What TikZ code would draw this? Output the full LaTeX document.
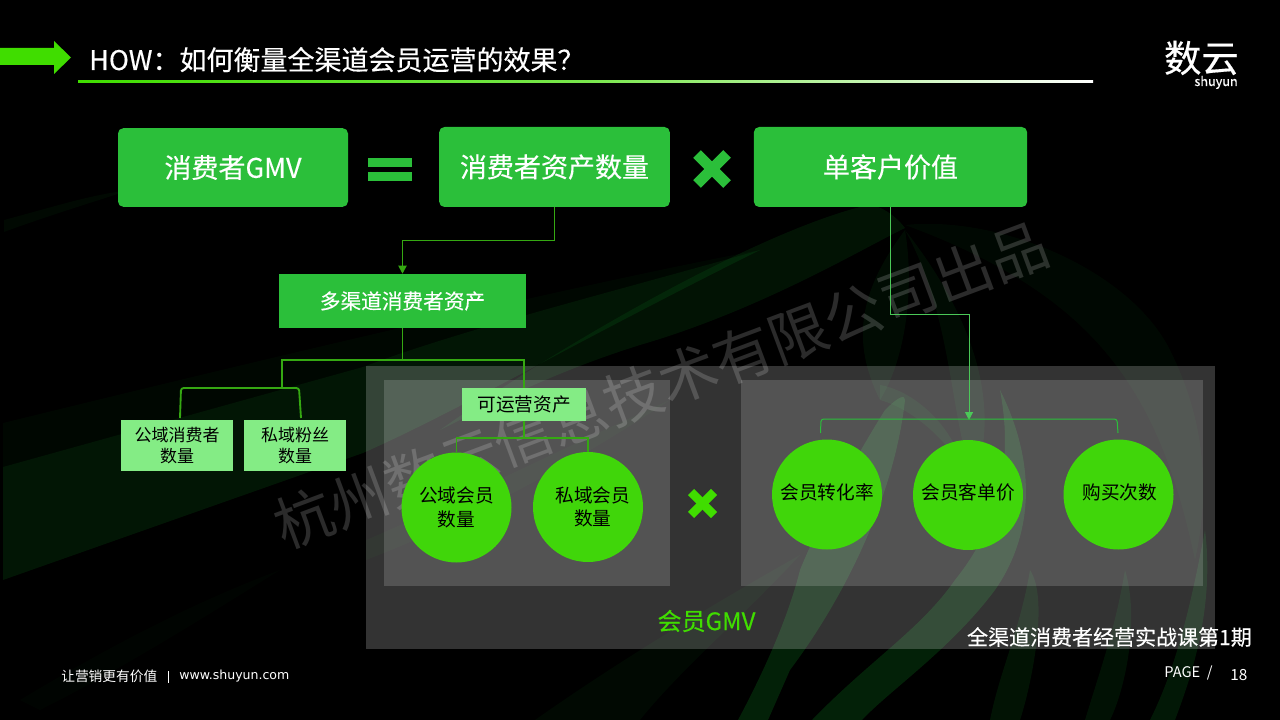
\documentclass[tikz,border=0pt]{standalone}
\usepackage{fontspec}
\setmainfont{Noto Sans CJK SC}
\newfontfamily\urlfont{DejaVu Sans}
\newfontfamily\heavy[FakeBold=0.35]{Noto Sans CJK SC}
\usetikzlibrary{arrows.meta,calc}
\definecolor{boxg}{HTML}{2BBF3A}
\definecolor{lightg}{HTML}{84EC85}
\definecolor{circg}{HTML}{40D60A}
\definecolor{arrg}{HTML}{40DD00}
\definecolor{lineg}{HTML}{35A812}
\definecolor{swoosh}{HTML}{0E7A1E}
\tikzset{
  x=0.75pt,y=-0.75pt,
  mainbox/.style={fill=boxg,text=white,rounded corners=4pt,inner sep=0pt,font=\heavy\fontsize{20.25pt}{24pt}\selectfont},
  subbox/.style={fill=boxg,text=white,inner sep=0pt,font=\heavy\fontsize{15.5pt}{19pt}\selectfont},
  leafbox/.style={fill=lightg,text=black,inner sep=0pt,align=center,font=\fontsize{12.75pt}{15.75pt}\selectfont},
  ball/.style={circle,fill=circg,text=black,inner sep=0pt,minimum size=82.5pt,align=center,font=\fontsize{14pt}{17.5pt}\selectfont},
  panel/.style={fill=white,fill opacity=#1,draw=none},
  band/.style={fill=swoosh,fill opacity=#1,draw=none},
  conn/.style={draw=lineg,line width=1.4pt},
  thin conn/.style={draw=boxg,line width=0.75pt},
  tip/.style={-{Triangle[length=6pt,width=6pt]}},
  txt/.style={inner sep=0pt,text=white},
  cross/.style={line width=#1,draw=boxg},
}
\begin{document}
\begin{tikzpicture}
\useasboundingbox (0,0) rectangle (1280,720);
\fill[black] (0,0) rectangle (1280,720);
% background swooshes
\path[band=.18] (3,580) -- (363,453) .. controls (460,410) and (560,350) .. (760,250) .. controls (620,290) and (460,330) .. (363,367) -- (3,467) -- cycle;
\path[band=.06] (3,467) -- (363,367) .. controls (460,330) and (620,290) .. (760,250) .. controls (600,280) and (300,350) .. (3,423) -- cycle;
\path[band=.08] (4,220) .. controls (60,205) and (90,195) .. (130,190) .. controls (100,200) and (50,215) .. (4,232) -- cycle;
\path[band=.16] (440,430) .. controls (560,345) and (760,230) .. (868,205) .. controls (880,205) and (895,215) .. (905,228) .. controls (860,250) and (760,310) .. (640,345) .. controls (560,370) and (500,400) .. (440,430) -- cycle;
\path[band=.07] (905,225) .. controls (1000,215) and (1130,270) .. (1170,350) .. controls (1195,400) and (1215,470) .. (1195,560) .. controls (1170,440) and (1130,360) .. (1050,300) .. controls (1010,270) and (960,245) .. (905,225) -- cycle;
\path[band=.1] (905,230) .. controls (960,300) and (1005,390) .. (975,480) .. controls (950,430) and (955,320) .. (905,230) -- cycle;
\path[band=.1] (905,230) .. controls (860,290) and (850,340) .. (880,400) .. controls (905,360) and (915,290) .. (905,230) -- cycle;
\path[band=.28] (738,720) .. controls (770,660) and (790,610) .. (800,570) .. controls (820,520) and (860,450) .. (885,410) .. controls (900,395) and (905,395) .. (905,400) .. controls (895,490) and (850,590) .. (790,670) -- (768,720) -- cycle;
\path[band=.28] (812,720) .. controls (870,660) and (920,630) .. (955,580) .. controls (995,530) and (1015,470) .. (1000,390) .. controls (1040,470) and (1030,540) .. (995,590) .. controls (950,650) and (890,690) .. (862,720) -- cycle;
\path[band=.12] (880,385) .. controls (910,390) and (950,420) .. (965,470) .. controls (945,440) and (915,410) .. (880,400) -- cycle;
\path[band=.16] (990,720) .. controls (1000,670) and (1020,630) .. (1030,570) .. controls (1050,600) and (1030,690) .. (1020,720) -- cycle;
\path[band=.14] (1085,720) .. controls (1100,670) and (1115,630) .. (1125,570) .. controls (1140,620) and (1125,690) .. (1110,720) -- cycle;
\path[band=.2] (1150,720) .. controls (1175,670) and (1190,610) .. (1205,530) .. controls (1215,610) and (1190,680) .. (1175,720) -- cycle;
\path[band=.08] (535,720) .. controls (620,660) and (720,600) .. (800,555) .. controls (740,620) and (680,670) .. (640,720) -- cycle;
\path[band=.06] (366,540) .. controls (460,500) and (580,440) .. (670,400) .. controls (580,460) and (470,520) .. (366,560) -- cycle;
\path[band=.04] (20,700) .. controls (120,640) and (200,600) .. (280,570) .. controls (200,620) and (120,670) .. (40,710) -- cycle;
% panels
\path[panel=.2] (366,366) rectangle (1215,649);
\path[panel=.16] (384,380) rectangle (670,586);
\path[panel=.16] (741,380) rectangle (1203,586);
% watermark
\node[rotate=20.5,text=white,text opacity=.17,inner sep=0pt,font=\fontsize{44pt}{50pt}\selectfont] (mark) at (661,385) {杭州数云信息技术有限公司出品};
% top arrow and title
\fill[arrg] (0,48) -- (54,48) -- (54,41) -- (71,57.5) -- (54,74) -- (54,65) -- (0,65) -- cycle;
\node[txt,anchor=base west,font=\heavy\fontsize{20.25pt}{24pt}\selectfont] (title) at (89,70) {HOW：如何衡量全渠道会员运营的效果？};
\shade[left color=arrg,right color=white,middle color=arrg!70!white] (78,81) rectangle (1093,83);
% logo
\node[txt,anchor=base east,font=\heavy\fontsize{28pt}{30pt}\selectfont] (logo) at (1239,72) {数云};
\node[txt,anchor=base east,font=\heavy\fontsize{9.5pt}{11pt}\selectfont] (logosub) at (1238,86) {shuyun};
% main equation boxes
\node[mainbox,minimum width=172.5pt,minimum height=59pt] (gmv) at (233,167.5) {消费者GMV};
\node[mainbox,minimum width=173pt,minimum height=60pt] (assets) at (554.5,167) {消费者资产数量};
\node[mainbox,minimum width=205pt,minimum height=60pt] (value) at (890.5,167) {单客户价值};
% equals
\fill[boxg] (368,158) rectangle (412,167);
\fill[boxg] (368,172) rectangle (412,181);
% large times
\draw[cross=8pt] (697,154) -- (727,184);
\draw[cross=8pt] (727,154) -- (697,184);
% small times
\draw[cross=6.5pt,draw=arrg] (691,492) -- (714,515);
\draw[cross=6.5pt,draw=arrg] (714,492) -- (691,515);
% sub boxes
\node[subbox,minimum width=185.25pt,minimum height=40.5pt] (multi) at (402.5,301) {多渠道消费者资产};
\node[leafbox,minimum width=84pt,minimum height=38.25pt] (pub) at (177,445.5) {公域消费者\\数量};
\node[leafbox,minimum width=76.5pt,minimum height=38.25pt] (priv) at (295,445.5) {私域粉丝\\数量};
\node[leafbox,minimum width=93pt,minimum height=24.75pt,font=\fontsize{14pt}{17pt}\selectfont] (oper) at (524,404.5) {可运营资产};
% circles
\node[ball] (c1) at (456.5,507.5) {\raisebox{-1pt}{公域会员}\\\raisebox{-1pt}{数量}};
\node[ball] (c2) at (588,507) {\hspace*{7pt}\raisebox{-1pt}{私域会员}\\\hspace*{7pt}\raisebox{-1pt}{数量}};
\node[ball] (c3) at (827,494.5) {\raisebox{4.5pt}{会员转化率}};
\node[ball] (c4) at (968,495) {\raisebox{4.5pt}{会员客单价}};
\node[ball] (c5) at (1118.5,494.5) {\raisebox{5pt}{\hspace*{2pt}购买次数}};
% connectors
\coordinate (jl) at (282,360);
\coordinate (jc) at (multi.south |- jl);
\coordinate (jb) at (282,388);
\coordinate (jo) at (oper.south |- 0,438);
\draw[conn,tip] (assets.south) |- ($(assets.south)!.5!(multi.north)$) -| (multi.north);
\draw[conn] (multi.south) -- (jc);
\draw[conn] (jb) -- (jl) -- (jc) -| (oper.north);
\draw[conn,rounded corners=2pt] (180,418) -- (181,388) -- (299,388) -- (301,418);
\draw[conn] (oper.south) -- (jo);
\draw[conn] (c1.north) |- (jo) -| (c2.north);
\coordinate (rb) at (969,314);
\draw[thin conn,tip,draw=boxg!85!white] (value.south) |- (rb) -- (969,420);
\draw[thin conn,rounded corners=2pt] (820.5,433) -- (821,419) -- (1117,419) -- (1118,433);
% bottom texts
\node[txt,text=arrg,font=\heavy\fontsize{18pt}{21pt}\selectfont] (mgmv) at (706.5,621) {会员GMV};
\node[txt,anchor=east,font=\heavy\fontsize{15.75pt}{18pt}\selectfont] (course) at (1252,637) {全渠道消费者经营实战课第1期};
\node[txt,anchor=west,font=\fontsize{10.3pt}{12pt}\selectfont] (slogan) at (61,676) {让营销更有价值};
\node[txt,anchor=center,font=\heavy\fontsize{8pt}{10pt}\selectfont] (bar) at (168.5,677) {|};
\node[txt,anchor=west,font=\fontsize{9.4pt}{12pt}\urlfont] (url) at (179,676) {www.shuyun.com};
\node[txt,anchor=west,font=\fontsize{11pt}{13pt}\selectfont] (page) at (1164,673) {PAGE\hspace{2.5pt} /};
\node[txt,anchor=west,font=\fontsize{11.5pt}{13pt}\selectfont] (num) at (1230,675) {18};
\end{tikzpicture}
\end{document}
